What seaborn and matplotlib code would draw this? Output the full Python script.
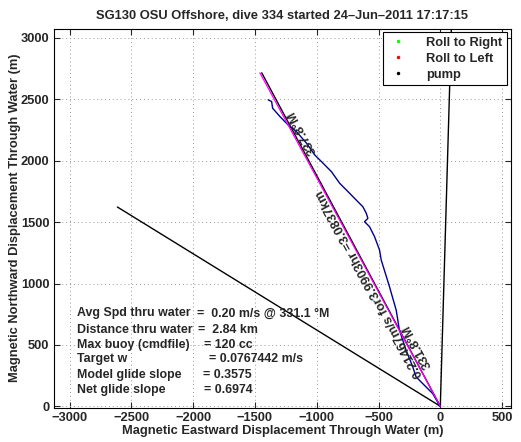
import matplotlib
matplotlib.use("Agg")
import matplotlib.pyplot as plt
import numpy as np
import seaborn as sns

# Track through water (m, magnetic east / north)
track_east = [-1393, -1365, -1357, -1298, -1232, -1164, -1083, -1016, -976, -881,
              -815, -734, -667, -627, -599, -586, -613, -573, -532, -492, -478,
              -411, -357, -331, -277, -223, -196, -115, -62, -22, -14, 0]
track_north = [2496, 2482, 2428, 2360, 2292, 2237, 2143, 2047, 2007, 1911,
               1817, 1735, 1666, 1626, 1572, 1531, 1503, 1463, 1381, 1273, 1191,
               973, 783, 620, 457, 321, 239, 157, 104, 35, 8, 0]

# straight lines from the dive start
current_east = [0, -2613]
current_north = [0, 1623]
pump_east = [0, 90]
pump_north = [0, 3100]
net_east = [0, -1445]
net_north = [0, 2716]
model_east = [0, -1460]
model_north = [0, 2716]

# summary text
summary_labels = ["Avg Spd thru water", "Distance thru water", "Max buoy (cmdfile)",
                  "Target w", "Model glide slope", "Net glide slope"]
summary_values = ["=  0.20 m/s @ 331.1 °M", "=  2.84 km", "= 120 cc",
                  "= 0.0767442 m/s", "= 0.3575", "= 0.6974"]

FS = 9.3
FS_BOX = 8.9

sns.set_style("ticks")
plt.rcParams["font.family"] = ["Liberation Sans", "DejaVu Sans"]
plt.rcParams["font.weight"] = "bold"
plt.rcParams["font.size"] = FS

fig = plt.figure(figsize=(5.21, 4.42), dpi=100)
ax = fig.add_axes([0.1027, 0.0775, 0.8781, 0.8580])

# legend entries (no points on this dive)
ax.plot([], [], ".", color="#00ff00", markersize=3, label="Roll to Right")
ax.plot([], [], ".", color="#ff0000", markersize=3, label="Roll to Left")
ax.plot([], [], ".", color="black", markersize=3, label="pump")

sns.lineplot(x=current_east, y=current_north, sort=False, estimator=None,
             color="black", linewidth=1.0, ax=ax)
sns.lineplot(x=pump_east, y=pump_north, sort=False, estimator=None,
             color="black", linewidth=1.0, ax=ax)
sns.lineplot(x=net_east, y=net_north, sort=False, estimator=None,
             color="black", linewidth=1.0, ax=ax)
sns.lineplot(x=track_east, y=track_north, sort=False, estimator=None,
             color="#00008b", linewidth=1.0, ax=ax)
sns.lineplot(x=model_east, y=model_north, sort=False, estimator=None,
             color="#ff00ff", linewidth=0.9, ax=ax)

ax.set_xlim(-3130, 572)
ax.set_ylim(-12, 3077)
ax.set_xticks(np.arange(-3000, 501, 500))
ax.set_yticks(np.arange(0, 3001, 500))
ax.grid(True, linestyle=(0, (1, 3)), color="#999999", linewidth=0.7)
ax.tick_params(direction="in", top=True, right=True, length=4, width=0.8,
               labelsize=FS, pad=3)
for s in ax.spines.values():
    s.set_visible(True)
    s.set_linewidth(0.8)
    s.set_color("black")
for lab in ax.get_xticklabels() + ax.get_yticklabels():
    lab.set_fontweight("bold")

ax.set_xlabel("Magnetic Eastward Displacement Through Water (m)",
              fontweight="bold", fontsize=FS, labelpad=1)
ax.set_ylabel("Magnetic Northward Displacement Through Water (m)",
              fontweight="bold", fontsize=FS, labelpad=0)
ax.set_title("SG130 OSU Offshore, dive 334 started 24\u2013Jun\u20132011 17:17:15",
             fontweight="bold", fontsize=FS, pad=7)

# labels along the heading lines
ang = 118.5
ax.text(-140, 258, "0.21467m/s for3.9903hr =3.0837km", rotation=ang,
        rotation_mode="anchor", ha="left", va="baseline", fontsize=FS,
        fontweight="bold")
ax.text(-130, 292, "331.8\u00b0M", rotation=ang, rotation_mode="anchor",
        ha="left", va="top", fontsize=FS, fontweight="bold")
ax.text(-1065, 2040, "337.8\u00b0M", rotation=ang, rotation_mode="anchor",
        ha="left", va="top", fontsize=FS, fontweight="bold")

label_x = -2938
value_x = [-1967, -1959, -1910, -1870, -1918, -1910]
rows_y = [756, 622, 497, 381, 255, 136]
for lab, val, vx, ry in zip(summary_labels, summary_values, value_x, rows_y):
    ax.text(label_x, ry, lab, ha="left", va="center", fontsize=FS_BOX, fontweight="bold")
    ax.text(vx, ry, val, ha="left", va="center", fontsize=FS_BOX, fontweight="bold")

leg = ax.legend(loc="upper right", fancybox=False, framealpha=1, edgecolor="black",
                borderaxespad=0.3, handlelength=1.6, handletextpad=1.4,
                borderpad=0.35, labelspacing=0.3, fontsize=FS)
leg.get_frame().set_linewidth(0.8)
for t in leg.get_texts():
    t.set_fontweight("bold")

fig.savefig("out.png", dpi=100)
